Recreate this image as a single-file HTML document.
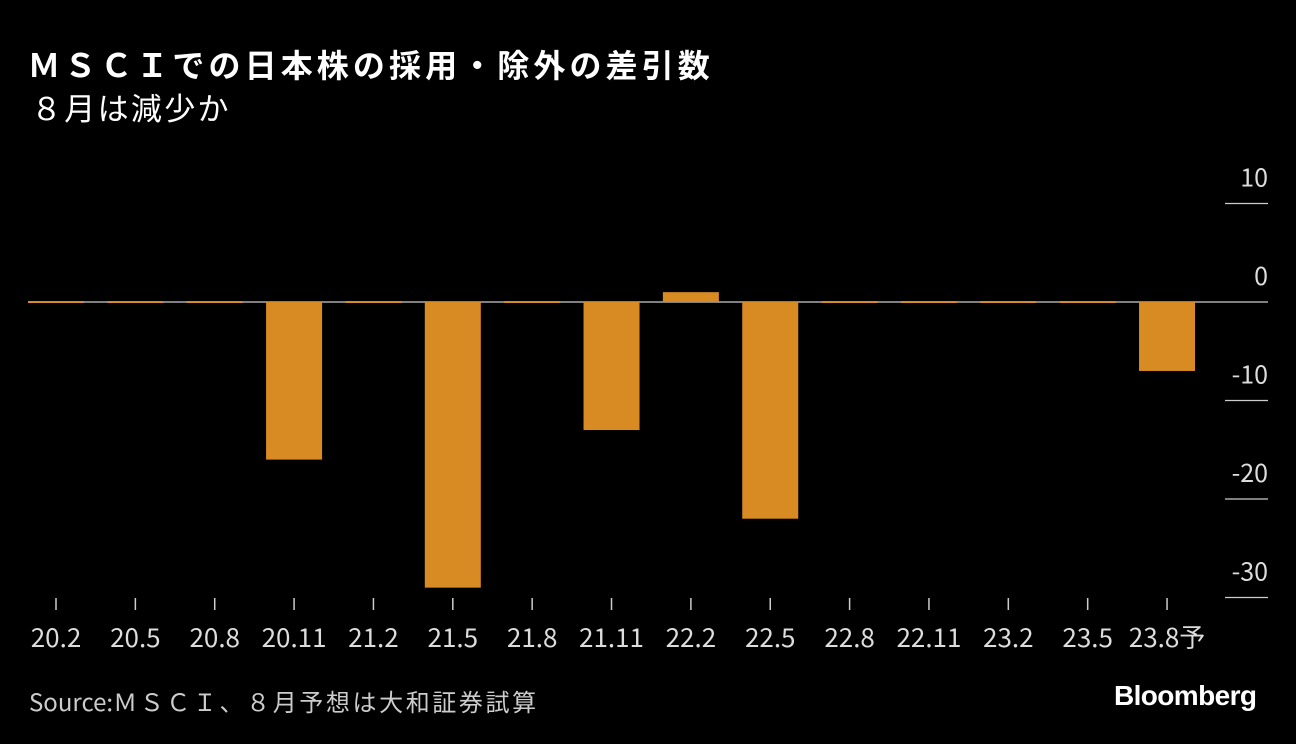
<!DOCTYPE html>
<html><head><meta charset="utf-8"><style>
html,body{margin:0;padding:0;background:#000;}
body{width:1296px;height:744px;position:relative;overflow:hidden;font-family:"Noto Sans CJK JP","Liberation Sans",sans-serif;color:#fff;}
.t{position:absolute;white-space:nowrap;}
</style></head><body>
<div class="t" style="left:28px;top:42px;font-size:32px;font-weight:bold;letter-spacing:4.1px;line-height:44px;">ＭＳＣＩでの日本株の採用・除外の差引数</div>
<div class="t" style="left:31px;top:86px;font-size:31px;letter-spacing:2.3px;line-height:42px;">８月は減少か</div>
<svg id="chart" width="1296" height="744" style="position:absolute;left:0;top:0;" font-family="Noto Sans CJK JP, Liberation Sans, sans-serif"></svg>
<div class="t" style="left:29px;top:684px;font-size:24px;color:#ccc;line-height:34px;">Source:<span style="letter-spacing:2.6px;">ＭＳＣＩ、８月予想は大和証券試算</span></div>
<div class="t" style="left:1114px;top:680px;font-size:28px;font-weight:bold;letter-spacing:-0.6px;font-family:'Liberation Sans',sans-serif;">Bloomberg</div>
<script>
const categories=["20.2","20.5","20.8","20.11","21.2","21.5","21.8","21.11","22.2","22.5","22.8","22.11","23.2","23.5","23.8予"];
const values=[0,0,0,-16,0,-29,0,-13,1,-22,0,0,0,0,-7];
const yTicks=[10,0,-10,-20,-30];
const NS="http://www.w3.org/2000/svg";
const svg=document.getElementById('chart');
const y=v=>302-v*9.85;
const x=i=>56+i*79.36;
const bw=56;
function mk(tag,attrs){const e=document.createElementNS(NS,tag);for(const k in attrs)e.setAttribute(k,attrs[k]);svg.appendChild(e);return e;}
yTicks.forEach(t=>{
  if(t!==0){const l=mk('line',{x1:1225,x2:1268,y1:y(t),y2:y(t),stroke:'#ccc','stroke-width':1.3});
  
  }
  const tx=mk('text',{x:1268,y:y(t)-17,'text-anchor':'end',fill:'#ddd','font-size':25});
  tx.textContent=String(t);
  
  
});
const zl=mk('line',{x1:28,x2:1268,y1:y(0),y2:y(0),stroke:'#aaa','stroke-width':1.5});


values.forEach((v,i)=>{
  let top=Math.min(y(v),y(0)),h=Math.abs(y(v)-y(0));
  if(v===0){top=y(0)-1;h=2;}
  const r=mk('rect',{x:x(i)-bw/2,y:top,width:bw,height:h,fill:'#d98b23'});
  
  
  const tk=mk('line',{x1:x(i),x2:x(i),y1:598,y2:610,stroke:'#ccc','stroke-width':1.5});
  
  
  const lb=mk('text',{x:x(i),y:647,'text-anchor':'middle',fill:'#ddd','font-size':26});
  lb.textContent=categories[i];
  
  
});
</script>
</body></html>
